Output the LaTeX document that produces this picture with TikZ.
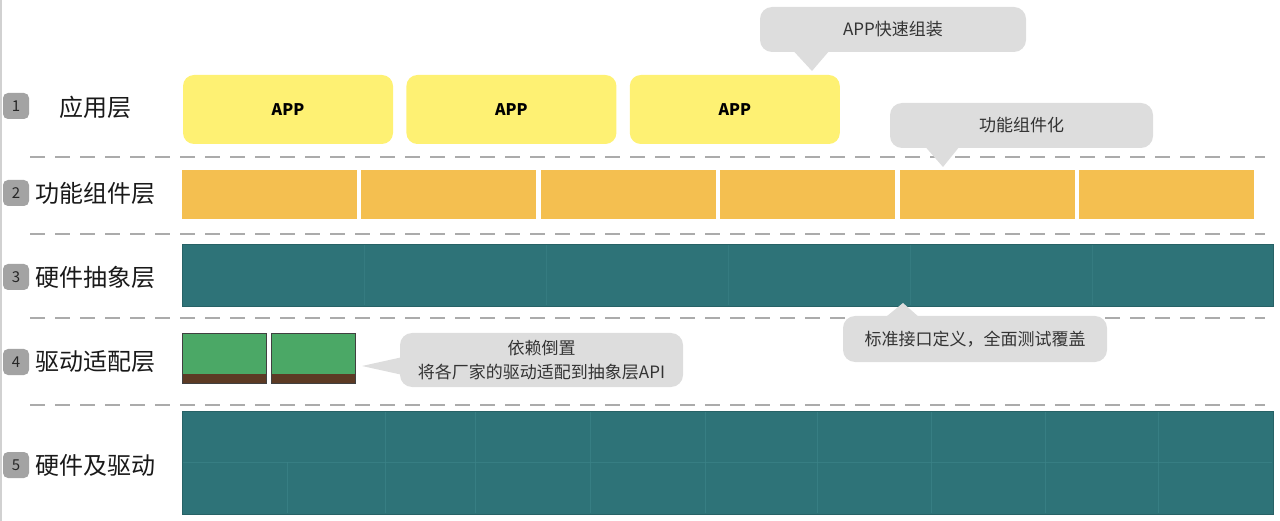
\documentclass[tikz,border=0pt]{standalone}
\usepackage{fontspec}
\setmainfont{Noto Sans CJK SC}
\usepackage{tikz}
\usetikzlibrary{positioning}
\usetikzlibrary{calc}

\definecolor{appyellow}{HTML}{FEF173}
\definecolor{compamber}{HTML}{F4BF50}
\definecolor{halteal}{HTML}{2E7378}
\definecolor{gridteal}{HTML}{3C8388}
\definecolor{drvgreen}{HTML}{4BA866}
\definecolor{drvbrown}{HTML}{5C3A24}
\definecolor{tipgray}{HTML}{DDDDDD}
\definecolor{badgegray}{HTML}{A3A3A3}
\definecolor{sepgray}{HTML}{ABABAB}

\begin{document}
\begin{tikzpicture}[x=1pt,y=-1pt,
	badge/.style={fill=badgegray,rounded corners=5pt,minimum width=26pt,minimum height=26pt,inner sep=0pt,text=black!85,font=\fontsize{15}{15}\selectfont},
	layername/.style={text=black!90,font=\fontsize{24}{24}\selectfont},
	appbox/.style={fill=appyellow,rounded corners=11pt,minimum width=210pt,minimum height=69pt,inner sep=0pt,font=\fontsize{16}{16}\selectfont\bfseries},
	compbox/.style={fill=compamber,minimum width=175pt,minimum height=49pt,inner sep=0pt},
	halbox/.style={fill=halteal,draw=halteal!85!black,line width=0.8pt,minimum width=1091pt,inner sep=0pt},
	drvbox/.style={fill=drvgreen,draw=black!75,line width=0.6pt,minimum width=84pt,minimum height=50pt,inner sep=0pt,
		path picture={\fill[drvbrown] (path picture bounding box.south west) rectangle ($(path picture bounding box.south east)+(0,-9)$);}},
	tipbox/.style={fill=tipgray,rounded corners=12pt,inner sep=0pt,align=center,text=black!80,font=\fontsize{17}{24}\selectfont},
	sepline/.style={draw=sepgray,line width=2pt,dash pattern=on 15pt off 10pt},
	faint/.style={draw=gridteal,line width=1pt}
]
	\useasboundingbox (0,0) rectangle (1280,521);
	\draw[black!18,line width=2pt] (1,0) -- (1,521);

	% layer names
	\node[badge] (N1) at (16,106) {1};
	\node[badge] (N2) at (16,193) {2};
	\node[badge] (N3) at (16,277) {3};
	\node[badge] (N4) at (16,362) {4};
	\node[badge] (N5) at (16,465) {5};
	\node[layername] (L1) at (95,107) {应用层};
	\node[layername] (L2) at (95,193) {功能组件层};
	\node[layername] (L3) at (95,277) {硬件抽象层};
	\node[layername] (L4) at (95,362) {驱动适配层};
	\node[layername] (L5) at (95,465) {硬件及驱动};

	% separators
	\foreach \y in {157,234,318,405}
		\draw[sepline] (30,\y) -- (1265,\y);

	% apps
	\node[appbox] (A1) at (288,109.5) {APP};
	\node[appbox, right=13pt of A1] (A2) {APP};
	\node[appbox, right=13pt of A2] (A3) {APP};

	% components
	\node[compbox] (C1) at (269.5,195) {};
	\node[compbox, right=4pt of C1] (C2) {};
	\node[compbox, right=4pt of C2] (C3) {};
	\node[compbox, right=4pt of C3] (C4) {};
	\node[compbox, right=4pt of C4] (C5) {};
	\node[compbox, right=4pt of C5] (C6) {};

	% hardware abstraction
	\node[halbox, minimum height=62pt] (H3) at (727.5,275) {};
	\foreach \x in {364,546,728,910,1092}
		\draw[faint, draw opacity=0.5] (\x,245) -- (\x,305);

	% drivers
	\node[drvbox] (D1) at (224,358) {};
	\node[drvbox, right=5pt of D1] (D2) {};

	% hardware and drivers
	\node[halbox, minimum height=103pt] (H5) at (727.5,462.5) {};
	\draw[faint, draw opacity=0.7] (183,462) -- (1272,462);
	\draw[faint, draw opacity=0.7] (287,462) -- (287,513);
	\foreach \x in {385,475,590,705,817,931,1045,1158}
		\draw[faint, draw opacity=0.7] (\x,412) -- (\x,513);

	% callouts
	\coordinate (pA) at (812,71);
	\coordinate (pB) at (943,167);
	\coordinate (pC) at (903,303);
	\coordinate (pD) at (362,366);
	\node[tipbox, minimum width=266pt, minimum height=45pt] (TA) at (893,29.5) {APP快速组装};
	\fill[tipgray] ($(TA.south west)+(33,-2)$) -- (pA) -- ($(TA.south west)+(70,-2)$) -- cycle;
	\node[tipbox, minimum width=263pt, minimum height=45pt] (TB) at (1021.5,125.5) {功能组件化};
	\fill[tipgray] ($(TB.south west)+(35,-2)$) -- (pB) -- ($(TB.south west)+(70,-2)$) -- cycle;
	\node[tipbox, minimum width=264pt, minimum height=46pt] (TC) at (975,339) {标准接口定义，全面测试覆盖};
	\fill[tipgray] ($(TC.north west)+(42,2)$) -- (pC) -- ($(TC.north west)+(77,2)$) -- cycle;
	\node[tipbox, minimum width=283pt, minimum height=54pt] (TD) at (541.5,360) {依赖倒置\\将各厂家的驱动适配到抽象层API};
	\fill[tipgray] ($(TD.west)+(3,-3)$) -- (pD) -- ($(TD.west)+(3,15)$) -- cycle;
\end{tikzpicture}
\end{document}
